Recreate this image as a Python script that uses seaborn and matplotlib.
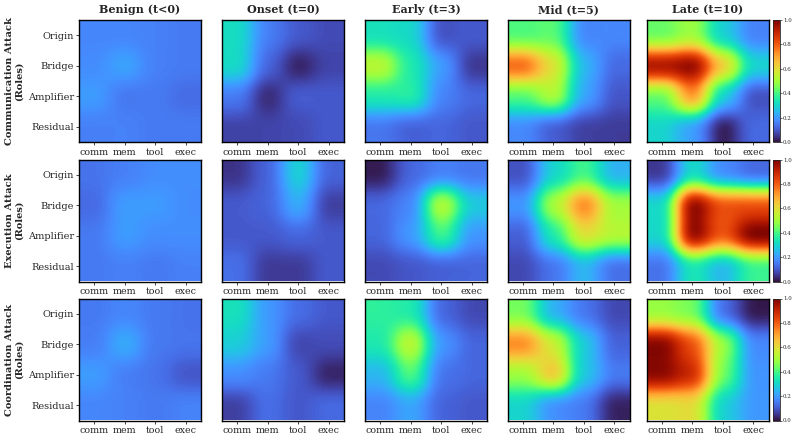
import numpy as np
import matplotlib
matplotlib.use("Agg")
import matplotlib.pyplot as plt
import seaborn as sns

roles = ["Origin", "Bridge", "Amplifier", "Residual"]
channels = ["comm", "mem", "tool", "exec"]
stages = ["Benign (t<0)", "Onset (t=0)", "Early (t=3)", "Mid (t=5)", "Late (t=10)"]
attacks = ["Communication Attack\n(Roles)", "Execution Attack\n(Roles)", "Coordination Attack\n(Roles)"]

# rows = roles, cols = channels
comm_benign = [[0.17, 0.17, 0.16, 0.15], [0.18, 0.21, 0.16, 0.15], [0.20, 0.15, 0.15, 0.13], [0.16, 0.16, 0.15, 0.15]]
comm_onset = [[0.31, 0.16, 0.10, 0.08], [0.30, 0.12, 0.03, 0.07], [0.15, 0.04, 0.10, 0.10], [0.07, 0.07, 0.08, 0.10]]
comm_early = [[0.33, 0.30, 0.10, 0.10], [0.52, 0.35, 0.20, 0.06], [0.35, 0.35, 0.17, 0.12], [0.15, 0.12, 0.12, 0.10]]
comm_mid = [[0.42, 0.42, 0.18, 0.17], [0.76, 0.58, 0.25, 0.13], [0.42, 0.50, 0.22, 0.10], [0.18, 0.12, 0.07, 0.06]]
comm_late = [[0.45, 0.50, 0.30, 0.17], [0.92, 0.95, 0.62, 0.30], [0.45, 0.70, 0.30, 0.10], [0.30, 0.22, 0.03, 0.12]]

exec_benign = [[0.14, 0.16, 0.18, 0.18], [0.13, 0.20, 0.20, 0.18], [0.15, 0.20, 0.18, 0.18], [0.15, 0.16, 0.15, 0.16]]
exec_onset = [[0.05, 0.12, 0.28, 0.12], [0.10, 0.12, 0.22, 0.07], [0.10, 0.10, 0.12, 0.10], [0.13, 0.06, 0.06, 0.10]]
exec_early = [[0.02, 0.12, 0.17, 0.15], [0.12, 0.18, 0.50, 0.28], [0.12, 0.20, 0.38, 0.20], [0.08, 0.10, 0.12, 0.12]]
exec_mid = [[0.10, 0.30, 0.40, 0.25], [0.20, 0.50, 0.72, 0.50], [0.12, 0.35, 0.58, 0.52], [0.08, 0.15, 0.25, 0.15]]
exec_late = [[0.07, 0.32, 0.20, 0.15], [0.32, 0.94, 0.80, 0.80], [0.32, 0.94, 0.80, 0.98], [0.15, 0.35, 0.27, 0.40]]

coord_benign = [[0.15, 0.17, 0.15, 0.14], [0.16, 0.22, 0.15, 0.14], [0.20, 0.16, 0.14, 0.10], [0.17, 0.16, 0.15, 0.16]]
coord_onset = [[0.32, 0.20, 0.13, 0.10], [0.28, 0.20, 0.08, 0.08], [0.18, 0.15, 0.10, 0.03], [0.07, 0.13, 0.10, 0.12]]
coord_early = [[0.37, 0.35, 0.13, 0.08], [0.35, 0.52, 0.20, 0.12], [0.25, 0.40, 0.15, 0.12], [0.17, 0.22, 0.12, 0.10]]
coord_mid = [[0.45, 0.25, 0.15, 0.08], [0.72, 0.55, 0.28, 0.12], [0.50, 0.62, 0.28, 0.15], [0.30, 0.20, 0.15, 0.03]]
coord_late = [[0.50, 0.45, 0.15, 0.02], [0.97, 0.80, 0.48, 0.18], [0.97, 0.87, 0.45, 0.20], [0.60, 0.60, 0.30, 0.20]]

grid = [
    [comm_benign, comm_onset, comm_early, comm_mid, comm_late],
    [exec_benign, exec_onset, exec_early, exec_mid, exec_late],
    [coord_benign, coord_onset, coord_early, coord_mid, coord_late],
]

sns.set_theme(style="ticks")
plt.rcParams["font.family"] = ["DejaVu Serif"]
cmap = sns.color_palette("turbo", as_cmap=True)

W, H = 797, 437
fig = plt.figure(figsize=(W / 100, H / 100), dpi=100)
lefts = [79, 222, 365, 507.5, 646.5]
tops = [20, 159.5, 298.5]
size = 122

for r in range(3):
    for c in range(5):
        ax = fig.add_axes([lefts[c] / W, 1 - (tops[r] + size) / H, size / W, size / H])
        im = ax.imshow(np.array(grid[r][c]), cmap=cmap, vmin=0, vmax=1,
                       interpolation="blackman", filterrad=0.68, aspect="auto")
        ax.set_xticks(range(4))
        ax.set_xticklabels(channels, fontsize=6.8)
        ax.tick_params(axis="x", length=2, width=0.6, pad=2)
        if c == 0:
            ax.set_yticks(range(4))
            ax.set_yticklabels(roles, fontsize=7.0)
            ax.tick_params(axis="y", length=2, width=0.6, pad=1.5)
            ax.set_ylabel(attacks[r], fontsize=7.1, fontweight="bold", linespacing=1.0)
            ax.yaxis.set_label_coords(-0.455, 0.5)
        else:
            ax.set_yticks([])
        for s in ax.spines.values():
            s.set_linewidth(1.0)
            s.set_color("black")
        if r == 0:
            ax.set_title(stages[c], fontsize=8, fontweight="bold", pad=5)
    cax = fig.add_axes([773 / W, 1 - (tops[r] + size) / H, 6.5 / W, size / H])
    cb = fig.colorbar(im, cax=cax)
    cb.set_ticks([0, 0.2, 0.4, 0.6, 0.8, 1.0])
    cb.ax.tick_params(labelsize=4, length=1.5, width=0.5, pad=1)
    cb.outline.set_linewidth(0.6)

fig.savefig("out.png", dpi=100)
